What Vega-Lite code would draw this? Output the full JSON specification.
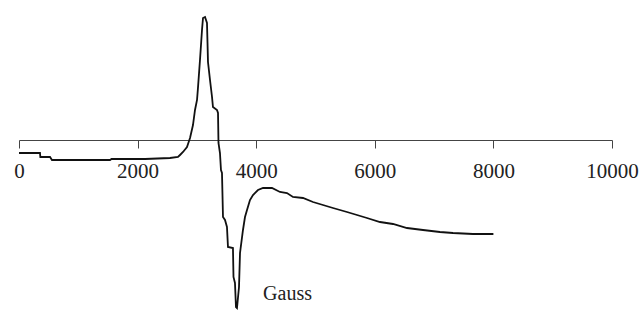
{
  "$schema": "https://vega.github.io/schema/vega-lite/v6.json",
  "width": 593,
  "height": 310,
  "autosize": {"type": "none"},
  "padding": {"left": 19, "top": 0, "right": 29, "bottom": 11},
  "background": "white",
  "config": {"view": {"stroke": null}},
  "data": {"values": [
    {"g": 0, "s": -13}, {"g": 354, "s": -13}, {"g": 360, "s": -17}, {"g": 523, "s": -17}, {"g": 556, "s": -20},
    {"g": 1535, "s": -20}, {"g": 1560, "s": -19}, {"g": 2125, "s": -19}, {"g": 2546, "s": -18}, {"g": 2681, "s": -17},
    {"g": 2715, "s": -15}, {"g": 2766, "s": -12}, {"g": 2833, "s": -7}, {"g": 2884, "s": 2}, {"g": 2934, "s": 15},
    {"g": 2968, "s": 30}, {"g": 3002, "s": 40}, {"g": 3018, "s": 52}, {"g": 3052, "s": 80}, {"g": 3086, "s": 110},
    {"g": 3103, "s": 122}, {"g": 3137, "s": 123}, {"g": 3170, "s": 117}, {"g": 3179, "s": 97}, {"g": 3187, "s": 78},
    {"g": 3221, "s": 60}, {"g": 3255, "s": 43}, {"g": 3271, "s": 33}, {"g": 3339, "s": 30}, {"g": 3356, "s": 27},
    {"g": 3364, "s": -3}, {"g": 3389, "s": -13}, {"g": 3406, "s": -30}, {"g": 3423, "s": -33}, {"g": 3440, "s": -77},
    {"g": 3474, "s": -80}, {"g": 3507, "s": -87}, {"g": 3524, "s": -107}, {"g": 3608, "s": -108}, {"g": 3617, "s": -137},
    {"g": 3642, "s": -143}, {"g": 3659, "s": -167}, {"g": 3676, "s": -168}, {"g": 3710, "s": -147}, {"g": 3727, "s": -113},
    {"g": 3777, "s": -90}, {"g": 3811, "s": -77}, {"g": 3845, "s": -70}, {"g": 3895, "s": -60}, {"g": 3946, "s": -55},
    {"g": 4030, "s": -50}, {"g": 4115, "s": -48}, {"g": 4266, "s": -48}, {"g": 4401, "s": -52}, {"g": 4519, "s": -53},
    {"g": 4620, "s": -57}, {"g": 4789, "s": -58}, {"g": 4958, "s": -62}, {"g": 5126, "s": -65}, {"g": 5295, "s": -68},
    {"g": 5531, "s": -72}, {"g": 5700, "s": -75}, {"g": 5868, "s": -78}, {"g": 6088, "s": -82}, {"g": 6307, "s": -84},
    {"g": 6543, "s": -88}, {"g": 6813, "s": -90}, {"g": 7099, "s": -92}, {"g": 7319, "s": -93}, {"g": 7656, "s": -94},
    {"g": 8000, "s": -94}
  ]},
  "mark": {"type": "line", "color": "#111111", "strokeWidth": 1.8, "interpolate": "linear"},
  "encoding": {
    "x": {
      "field": "g", "type": "quantitative",
      "scale": {"domain": [0, 10000], "nice": false, "zero": false},
      "axis": {
        "title": "Gauss",
        "values": [0, 2000, 4000, 6000, 8000, 10000],
        "format": "d",
        "offset": -170,
        "grid": false,
        "domainColor": "#444444", "domainWidth": 1,
        "tickColor": "#444444", "tickWidth": 1, "tickSize": 8,
        "labelFont": "Liberation Serif", "labelFontSize": 21, "labelColor": "#222222",
        "labelPadding": 12, "labelFlush": false, "labelOverlap": false,
        "titleFont": "Liberation Serif", "titleFontSize": 20, "titleFontWeight": "normal", "titleColor": "#222222",
        "titleX": 268, "titleY": 153, "titleBaseline": "middle", "titleAlign": "center", "titleAnchor": null
      }
    },
    "y": {
      "field": "s", "type": "quantitative",
      "scale": {"domain": [-170, 140], "nice": false, "zero": false},
      "axis": null
    }
  }
}
